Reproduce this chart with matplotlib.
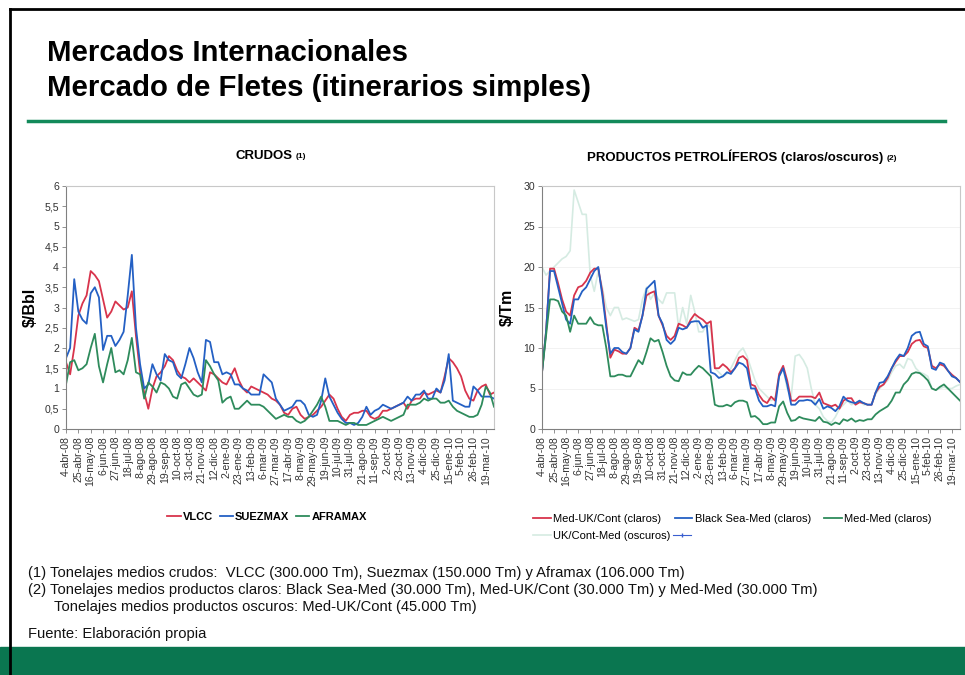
import matplotlib
matplotlib.use("Agg")
from matplotlib import pyplot as plt
from matplotlib.lines import Line2D
from matplotlib.patches import Rectangle

plt.rcParams['font.family'] = ['Liberation Sans', 'DejaVu Sans']

# etiquetas del eje x (cada 3 semanas)
fechas = ["4-abr-08", "25-abr-08", "16-may-08", "6-jun-08", "27-jun-08", "18-jul-08",
          "8-ago-08", "29-ago-08", "19-sep-08", "10-oct-08", "31-oct-08", "21-nov-08",
          "12-dic-08", "2-ene-09", "23-ene-09", "13-feb-09", "6-mar-09", "27-mar-09",
          "17-abr-09", "8-may-09", "29-may-09", "19-jun-09", "10-jul-09", "31-jul-09",
          "21-ago-09", "11-sep-09", "2-oct-09", "23-oct-09", "13-nov-09", "4-dic-09",
          "25-dic-09", "15-ene-10", "5-feb-10", "26-feb-10", "19-mar-10"]

# CRUDOS ($/Bbl), semanal
vlcc = [1.65, 1.35, 2.0, 2.8, 3.1, 3.3, 3.9, 3.8, 3.65, 3.2, 2.75, 2.9, 3.15, 3.05, 2.95, 3.0,
        3.4, 2.3, 1.4, 0.9, 0.5, 1.0, 1.3, 1.4, 1.55, 1.8, 1.7, 1.45, 1.3, 1.25, 1.15, 1.25,
        1.15, 1.05, 0.95, 1.4, 1.35, 1.25, 1.15, 1.1, 1.3, 1.5, 1.2, 1.0, 0.9, 1.05, 1.0, 0.95,
        0.9, 0.85, 0.75, 0.7, 0.6, 0.4, 0.35, 0.5, 0.55, 0.35, 0.25, 0.3, 0.35, 0.45, 0.55, 0.7,
        0.85, 0.75, 0.5, 0.3, 0.2, 0.35, 0.4, 0.4, 0.45, 0.45, 0.3, 0.25, 0.3, 0.45, 0.45, 0.5,
        0.55, 0.6, 0.65, 0.5, 0.7, 0.75, 0.75, 0.9, 0.85, 0.9, 0.95, 0.9, 1.3, 1.75, 1.65, 1.5,
        1.3, 0.95, 0.75, 0.7, 0.95, 1.05, 1.1, 0.85, 0.9]
suezmax = [1.75, 2.0, 3.7, 2.9, 2.7, 2.6, 3.35, 3.5, 3.25, 1.95, 2.3, 2.3, 2.05, 2.2, 2.4, 3.3,
           4.3, 2.5, 1.6, 1.0, 1.1, 1.6, 1.35, 1.2, 1.85, 1.7, 1.65, 1.35, 1.25, 1.6, 2.0, 1.75,
           1.4, 1.15, 2.2, 2.15, 1.65, 1.65, 1.35, 1.4, 1.35, 1.1, 1.1, 1.0, 0.95, 0.85, 0.85,
           0.85, 1.35, 1.25, 1.15, 0.75, 0.6, 0.45, 0.5, 0.55, 0.7, 0.7, 0.6, 0.35, 0.3, 0.35,
           0.7, 1.25, 0.8, 0.6, 0.4, 0.25, 0.15, 0.15, 0.1, 0.15, 0.3, 0.55, 0.35, 0.45, 0.5, 0.6,
           0.55, 0.5, 0.55, 0.6, 0.65, 0.8, 0.7, 0.85, 0.85, 0.95, 0.75, 0.75, 1.0, 0.9, 1.2,
           1.85, 0.7, 0.65, 0.6, 0.55, 0.55, 1.05, 0.95, 0.8, 0.8, 0.8, 0.75]
aframax = [1.1, 1.65, 1.7, 1.45, 1.5, 1.6, 2.0, 2.35, 1.55, 1.15, 1.6, 2.0, 1.4, 1.45, 1.35, 1.7,
           2.25, 1.4, 1.35, 0.75, 1.15, 1.05, 0.9, 1.15, 1.1, 1.0, 0.8, 0.75, 1.1, 1.15, 1.0,
           0.85, 0.8, 0.85, 1.7, 1.55, 1.35, 1.2, 0.65, 0.75, 0.8, 0.5, 0.5, 0.6, 0.7, 0.6, 0.6,
           0.6, 0.55, 0.45, 0.35, 0.25, 0.3, 0.35, 0.3, 0.3, 0.2, 0.15, 0.2, 0.3, 0.45, 0.6,
           0.8, 0.55, 0.2, 0.2, 0.2, 0.15, 0.1, 0.15, 0.15, 0.1, 0.1, 0.1, 0.15, 0.2, 0.25, 0.3,
           0.25, 0.2, 0.25, 0.3, 0.35, 0.6, 0.6, 0.6, 0.65, 0.75, 0.7, 0.75, 0.75, 0.65, 0.65,
           0.7, 0.55, 0.45, 0.4, 0.35, 0.3, 0.3, 0.35, 0.6, 1.05, 0.9, 0.55]

# PRODUCTOS ($/Tm), semanal
med_uk = [7, 12, 19.8, 19.8, 18, 16, 14.5, 14, 16.5, 17.5, 17.7, 18.3, 19.3, 19.8, 19.8, 17, 13,
          8.8, 9.8, 9.6, 9.3, 9.3, 10, 12.5, 12.2, 14, 16.5, 16.8, 17, 14, 12.8, 11.5, 11, 11.5,
          13, 12.8, 12.5, 13.5, 14.2, 13.8, 13.5, 13, 13.3, 7.5, 7.5, 8, 7.6, 7, 7.5, 8.8, 9,
          8.5, 5.5, 5.3, 4.2, 3.5, 3.2, 4, 3.5, 6.8, 7.8, 6, 3.5, 3.5, 4, 4, 4, 4, 3.8, 4.5, 3.2,
          3, 2.8, 3, 2.5, 3.5, 3.8, 3.8, 3, 3.3, 3.2, 3, 3, 4.5, 5.2, 5.5, 6.3, 7.5, 8.3, 9, 9,
          9.5, 10.5, 10.9, 11, 10.2, 10, 7.8, 7.5, 8, 7.8, 7.2, 6.7, 6.3, 5.8]
black_sea = [7, 12, 19.5, 19.5, 17.5, 15.5, 13.5, 13, 16, 16, 17, 17.5, 18.5, 19.5, 20, 16.5,
             12.5, 9.3, 10, 10, 9.5, 9.3, 10, 12.3, 12, 14, 17.3, 17.8, 18.3, 14, 13, 11, 10.5,
             11, 12.5, 12.3, 12.5, 13.2, 13.3, 13.3, 12.5, 12.8, 7, 6.8, 6.3, 6.5, 7, 6.8, 7.5,
             8.2, 8, 7.5, 5, 5, 3.5, 2.8, 2.8, 3, 2.8, 6.5, 7.5, 5.5, 3, 3, 3.5, 3.5, 3.6, 3.5,
             3, 3.7, 2.5, 2.8, 2.6, 2.2, 2.8, 4, 3.5, 3.3, 3.2, 3.5, 3.2, 3, 3, 4.5, 5.7, 5.8,
             6.5, 7.5, 8.5, 9.2, 9, 10, 11.5, 11.9, 12, 10.5, 10.2, 7.5, 7.3, 8.2, 8, 7.2, 6.5,
             6.3, 5.8]
med_med = [7, 11.5, 16, 16, 15.8, 14.5, 14, 12, 14, 13, 13, 13, 13.8, 13, 12.8, 12.8, 10, 6.5,
           6.5, 6.7, 6.7, 6.5, 6.5, 7.5, 8.5, 8, 9.5, 11.2, 10.8, 11, 9.5, 7.8, 6.5, 6, 5.9, 7,
           6.7, 6.7, 7.3, 7.8, 7.5, 7, 6.5, 3, 2.8, 2.8, 3, 2.8, 3.3, 3.5, 3.5, 3.3, 1.5, 1.6,
           1.2, 0.6, 0.6, 0.8, 0.8, 2.8, 3.4, 2, 1, 1.1, 1.5, 1.3, 1.2, 1.1, 1, 1.5, 0.9, 0.8,
           0.5, 0.8, 0.6, 1.2, 1, 1.3, 0.9, 1.1, 1, 1.2, 1.2, 1.8, 2.2, 2.5, 2.8, 3.5, 4.5, 4.5,
           5.5, 6, 6.8, 7, 6.9, 6.5, 6, 5, 4.8, 5.2, 5.5, 5, 4.5, 4, 3.5]
uk_med = [20, 19, 19.5, 20, 20.5, 21, 21.3, 22, 29.5, 28, 26.5, 26.5, 19, 17, 19.5, 17.5, 15,
          14, 15, 15, 13.5, 13.7, 13.5, 13.3, 13.5, 16, 17.5, 16, 16.8, 16, 15.5, 16.8, 16.8,
          16.8, 12.5, 15, 13, 16.5, 14.5, 12, 12, 13, 12.5, 7.5, 7, 6.5, 6.8, 7.5, 8.5, 9.5, 10,
          9, 7.5, 6, 5, 4.5, 4, 3.5, 3.8, 6.5, 7.5, 5, 4, 9, 9.2, 8.5, 7.5, 5, 3, 2.5, 1.5, 1,
          0.8, 1.5, 2.5, 3, 3.5, 3, 3.2, 3.5, 3, 3, 3, 4.3, 5, 5.5, 6, 7, 7.8, 8, 7.5, 8.7, 8.5,
          7.5, 7, 6.8, 6.5, 5, 4.8, 5, 5.2, 5, 5, 5.3, 5.5]

W, H = 965, 675
fig = plt.figure(figsize=(W / 100, H / 100), dpi=100)


def px_axes(left, top, right, bottom):
    return fig.add_axes([left / W, 1 - bottom / H, (right - left) / W, (bottom - top) / H])


# marco y bandas verdes
verde = '#0a7650'
fig.patches.append(Rectangle((0, 0), 1, 28 / H, transform=fig.transFigure,
                             color=verde, zorder=0))
fig.add_artist(Line2D([10 / W, 10 / W], [0, 1 - 9 / H], transform=fig.transFigure,
                      color='black', lw=2))
fig.add_artist(Line2D([10 / W, 1], [1 - 9 / H, 1 - 9 / H], transform=fig.transFigure,
                      color='black', lw=2))
fig.add_artist(Line2D([28 / W, 945 / W], [1 - 121 / H, 1 - 121 / H],
                      transform=fig.transFigure, color='#138a5a', lw=2.5))

fig.text(47 / W, 1 - 53 / H, "Mercados Internacionales", fontsize=21.2, weight='bold',
         va='center', ha='left')
fig.text(47 / W, 1 - 88 / H, "Mercado de Fletes (itinerarios simples)", fontsize=21.2,
         weight='bold', va='center', ha='left')

x = list(range(len(vlcc)))
ticks = list(range(0, len(fechas) * 3, 3))


def estilo(ax, ymax, ystep, fmt):
    ax.set_xlim(0, len(x) - 1)
    ax.set_ylim(0, ymax)
    ax.set_xticks(ticks)
    ax.set_xticklabels(fechas, rotation=90, fontsize=7.6, color='#333333')
    yt = [i * ystep for i in range(int(round(ymax / ystep)) + 1)]
    ax.set_yticks(yt)
    ax.set_yticklabels([fmt(v) for v in yt], fontsize=7.6, color='#333333')
    for s in ['top', 'right']:
        ax.spines[s].set_color('#c8c8c8')
    for s in ['left', 'bottom']:
        ax.spines[s].set_color('#808080')
    ax.tick_params(axis='both', length=3, width=0.6, color='#808080', pad=2)


# ---- CRUDOS ----
ax1 = px_axes(66, 186, 494, 429)
ax1.plot(x, vlcc, color='#d8344c', lw=1.3, label='VLCC')
ax1.plot(x, suezmax, color='#2460c4', lw=1.3, label='SUEZMAX')
ax1.plot(x, aframax, color='#2e8b5c', lw=1.3, label='AFRAMAX')
estilo(ax1, 6, 0.5, lambda v: ('%g' % v).replace('.', ','))
ax1.set_ylabel(r'\$/Bbl', fontsize=11.5, weight='bold', labelpad=5)
ax1.legend(loc='upper center', bbox_to_anchor=(0.47, -0.3), ncol=3, frameon=False,
           prop={'weight': 'bold', 'size': 8}, handlelength=1.2, handletextpad=0.2,
           columnspacing=0.6)
fig.text(293 / W, 1 - 156 / H, "CRUDOS", fontsize=9.5, weight='bold', ha='right',
         va='center')
fig.text(296 / W, 1 - 157 / H, "(1)", fontsize=6, weight='bold', ha='left', va='center')

# ---- PRODUCTOS ----
ax2 = px_axes(542, 186, 960, 429)
ax2.grid(axis='y', color='#f0f0f0', lw=0.6)
ax2.set_axisbelow(True)
l4, = ax2.plot(x, uk_med, color='#d5ebe2', lw=1.2, label='UK/Cont-Med (oscuros)')
l1, = ax2.plot(x, med_uk, color='#d8344c', lw=1.3, label='Med-UK/Cont (claros)')
l2, = ax2.plot(x, black_sea, color='#2460c4', lw=1.3, label='Black Sea-Med (claros)')
l3, = ax2.plot(x, med_med, color='#2e8b5c', lw=1.3, label='Med-Med (claros)')
estilo(ax2, 30, 5, lambda v: '%g' % v)
ax2.set_ylabel(r'\$/Tm', fontsize=11.5, weight='bold', labelpad=6)

leg1 = ax2.legend([l1, l2, l3], [l1.get_label(), l2.get_label(), l3.get_label()],
                  loc='upper left', bbox_to_anchor=(-0.045, -0.31), ncol=3, frameon=False,
                  prop={'size': 8}, handlelength=1.6, handletextpad=0.2, columnspacing=1.2)
ax2.add_artist(leg1)
extra = Line2D([], [], color='#3a5fd0', lw=0.8, marker='|', markersize=3)
ax2.legend([l4, extra], [l4.get_label(), ''], loc='upper left',
           bbox_to_anchor=(-0.045, -0.38), ncol=2, frameon=False, prop={'size': 8},
           handlelength=1.6, handletextpad=0.2, columnspacing=0.2)

fig.text(883 / W, 1 - 157 / H, "PRODUCTOS PETROLÍFEROS (claros/oscuros)", fontsize=9.5,
         weight='bold', ha='right', va='center')
fig.text(887 / W, 1 - 158 / H, "(2)", fontsize=6, weight='bold', ha='left', va='center')

# ---- notas ----
notas = [
    (28, 573, "(1) Tonelajes medios crudos:  VLCC (300.000 Tm), Suezmax (150.000 Tm) y Aframax (106.000 Tm)"),
    (28, 590, "(2) Tonelajes medios productos claros: Black Sea-Med (30.000 Tm), Med-UK/Cont (30.000 Tm) y Med-Med (30.000 Tm)"),
    (54, 607, "Tonelajes medios productos oscuros: Med-UK/Cont (45.000 Tm)"),
    (28, 634, "Fuente: Elaboración propia"),
]
for nx, ny, t in notas:
    fig.text(nx / W, 1 - ny / H, t, fontsize=10.6, ha='left', va='center', color='#111111')

fig.savefig('out.png', dpi=100)
